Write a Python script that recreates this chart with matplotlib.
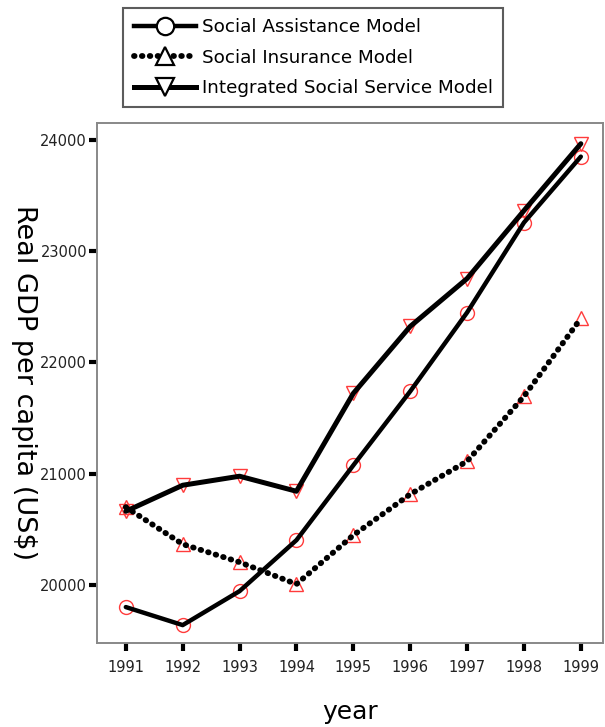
import matplotlib.pyplot as plt
from matplotlib.lines import Line2D

# data
years = [1991, 1992, 1993, 1994, 1995, 1996, 1997, 1998, 1999]
assistance = [19803, 19641, 19946, 20404, 21076, 21740, 22448, 23256, 23848]
insurance = [20700, 20368, 20206, 20009, 20448, 20816, 21112, 21695, 22395]
integrated = [20663, 20897, 20978, 20843, 21722, 22323, 22753, 23363, 23964]
series_names = ['Social Assistance Model', 'Social Insurance Model',
                'Integrated Social Service Model']
y_ticks = [20000, 21000, 22000, 23000, 24000]

plt.rcParams['font.family'] = ['DejaVu Sans']

fig = plt.figure(figsize=(6.05, 7.27), dpi=100)
ax = fig.add_axes([0.160, 0.1155, 0.8367, 0.7153])

styles = [
    dict(ls='-', lw=3.2, marker='o'),
    dict(ls=(0, (0.1, 1.25)), lw=4.2, marker='^'),
    dict(ls='-', lw=3.6, marker='v'),
]
red = '#ff3b3b'
handles = []
for vals, st, name in zip([assistance, insurance, integrated], styles, series_names):
    ax.plot(years, vals, color='black', ls=st['ls'], lw=st['lw'],
            solid_capstyle='round', dash_capstyle='round', zorder=3)
    ax.plot(years, vals, ls='none', marker=st['marker'], ms=10,
            mfc='none', mec=red, mew=1.0, zorder=2)
    handles.append(Line2D([], [], color='black', ls=st['ls'], lw=st['lw'],
                          dash_capstyle='round', marker=st['marker'], ms=12.5,
                          mfc='white', mec='black', mew=1.6, label=name))

ax.set_xlim(1990.49, 1999.39)
ax.set_ylim(19480, 24150)
ax.set_xticks(years)
ax.set_yticks(y_ticks)
ax.tick_params(direction='out', length=6, width=3, color='black',
               labelsize=10.5, labelcolor='#222222')
ax.tick_params(axis='y', pad=1)
ax.tick_params(axis='x', pad=6)

for sp in ax.spines.values():
    sp.set_color('#888888')
    sp.set_linewidth(1.4)

ax.set_xlabel('year', fontsize=18, labelpad=18)
ax.yaxis.set_label_coords(-0.144, 0.505)
ax.set_ylabel('Real GDP per capita (US$)', fontsize=19.5, rotation=-90,
              va='center')

leg = fig.legend(handles=handles, loc='upper center',
                 bbox_to_anchor=(0.518, 0.989), fontsize=13.2, frameon=True,
                 fancybox=False, handlelength=3.4, handletextpad=0.35,
                 borderpad=0.55, labelspacing=0.68, borderaxespad=0)
leg.get_frame().set_edgecolor('#333333')
leg.get_frame().set_linewidth(1.5)

fig.savefig('out.png', dpi=100)
